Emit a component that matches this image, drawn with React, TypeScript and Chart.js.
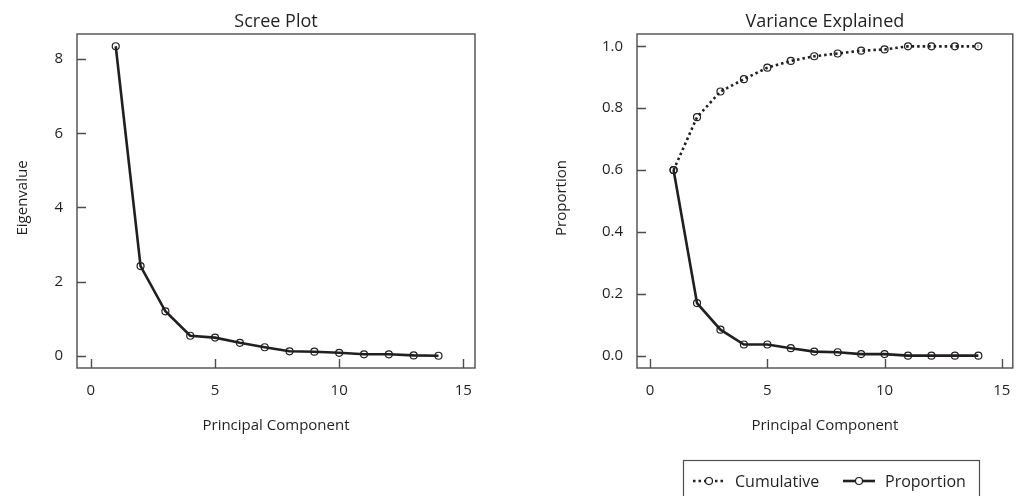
import React, { useEffect, useRef } from "react";
import { Chart, registerables } from "chart.js";

Chart.register(...registerables);

// ---------- data ----------
const components = [1, 2, 3, 4, 5, 6, 7, 8, 9, 10, 11, 12, 13, 14];
const eigenvalues = [8.35, 2.42, 1.2, 0.54, 0.49, 0.35, 0.23, 0.12, 0.11, 0.08, 0.04, 0.04, 0.01, 0.0];
const proportion = [0.6, 0.17, 0.084, 0.036, 0.036, 0.024, 0.013, 0.011, 0.005, 0.005, 0.0, 0.0, 0.0, 0.0];
const cumulative = [0.6, 0.771, 0.854, 0.894, 0.931, 0.953, 0.968, 0.977, 0.986, 0.99, 1.0, 1.0, 1.0, 1.0];
const xTickValues = [0, 5, 10, 15];
const eigenTickValues = [0, 2, 4, 6, 8];
const propTickValues = [0, 0.2, 0.4, 0.6, 0.8, 1.0];

const W = 1018;
const H = 496;
const INK = "#231f20";
const FRAME = "#4d4d4f";
const FONT = "'Open Sans', 'Noto Sans', sans-serif";

type Area = { left: number; top: number; right: number; bottom: number };

const framePlugin = {
  id: "frame",
  afterDraw(chart: any, _args: any, opts: any) {
    const { ctx, chartArea: a, scales } = chart;
    ctx.save();
    ctx.strokeStyle = FRAME;
    ctx.lineWidth = 1.4;
    ctx.strokeRect(a.left, a.top, a.right - a.left, a.bottom - a.top);
    const TL = 9;
    ctx.beginPath();
    scales.x.ticks.forEach((t: any) => {
      const px = Math.round(scales.x.getPixelForValue(t.value)) + 0.5;
      ctx.moveTo(px, a.bottom);
      ctx.lineTo(px, a.bottom - TL);
    });
    scales.y.ticks.forEach((t: any) => {
      const py = Math.round(scales.y.getPixelForValue(t.value)) + 0.5;
      ctx.moveTo(a.left, py);
      ctx.lineTo(a.left + TL, py);
    });
    ctx.stroke();

    ctx.fillStyle = INK;
    ctx.textAlign = "center";
    ctx.textBaseline = "alphabetic";
    const cx = (a.left + a.right) / 2;
    ctx.font = `18px ${FONT}`;
    ctx.fillText(opts.title, cx, 27);
    ctx.font = `15px ${FONT}`;
    ctx.fillText(opts.xTitle, cx, 430);
    ctx.save();
    ctx.translate(opts.yTitleX, 198);
    ctx.rotate(-Math.PI / 2);
    ctx.fillText(opts.yTitle, 0, 0);
    ctx.restore();

    if (opts.legend) {
      const lg = opts.legend;
      ctx.strokeStyle = FRAME;
      ctx.lineWidth = 1.2;
      ctx.strokeRect(lg.left + 0.5, lg.top + 0.5, lg.right - lg.left, lg.bottom - lg.top);
      ctx.font = `16px ${FONT}`;
      ctx.textAlign = "left";
      chart.data.datasets.forEach((ds: any, i: number) => {
        const x0 = lg.items[i];
        const y0 = lg.lineY;
        ctx.strokeStyle = ds.borderColor;
        ctx.lineWidth = ds.borderWidth;
        ctx.setLineDash(ds.borderDash || []);
        ctx.beginPath();
        ctx.moveTo(x0, y0);
        ctx.lineTo(x0 + 32, y0);
        ctx.stroke();
        ctx.setLineDash([]);
        ctx.lineWidth = ds.pointBorderWidth;
        ctx.beginPath();
        ctx.arc(x0 + 16, y0, ds.pointRadius, 0, Math.PI * 2);
        ctx.fillStyle = "#ffffff";
        ctx.fill();
        ctx.stroke();
        ctx.fillStyle = INK;
        ctx.fillText(ds.label, x0 + 42, lg.textY);
      });
    }
    ctx.restore();
  },
};

function series(label: string, values: number[], dashed: boolean) {
  return {
    label,
    data: components.map((c, i) => ({ x: c, y: values[i] })),
    borderColor: INK,
    borderWidth: 2.6,
    borderDash: dashed ? [2.5, 3] : [],
    pointRadius: 3.5,
    pointBorderWidth: 1.2,
    pointBorderColor: INK,
    pointBackgroundColor: "rgba(0,0,0,0)",
    tension: 0,
    fill: false,
  };
}

function buildConfig(p: {
  datasets: any[];
  area: Area;
  yMin: number;
  yMax: number;
  yTicks: number[];
  decimals: number;
  title: string;
  yTitle: string;
  yTitleX: number;
  legend?: any;
}) {
  const { area } = p;
  const tickFont = { family: FONT, size: 15 };
  return {
    type: "line",
    data: { datasets: p.datasets },
    options: {
      animation: false,
      responsive: false,
      devicePixelRatio: 1,
      layout: { padding: { left: 0, top: area.top, right: W - area.right, bottom: 0 } },
      plugins: {
        legend: { display: false },
        title: { display: false },
        tooltip: { enabled: false },
        frame: {
          title: p.title,
          xTitle: "Principal Component",
          yTitle: p.yTitle,
          yTitleX: p.yTitleX,
          legend: p.legend,
        },
      },
      scales: {
        x: {
          type: "linear",
          min: -0.56,
          max: 15.47,
          grid: { display: false, drawTicks: false },
          border: { display: false },
          ticks: { font: tickFont, color: INK, padding: 14, maxRotation: 0, callback: (v: number) => String(v) },
          afterBuildTicks: (s: any) => {
            s.ticks = xTickValues.map((v) => ({ value: v }));
          },
          afterFit: (s: any) => {
            s.height = H - area.bottom;
            s.paddingLeft = 0;
            s.paddingRight = 0;
          },
        },
        y: {
          type: "linear",
          min: p.yMin,
          max: p.yMax,
          grid: { display: false, drawTicks: false },
          border: { display: false },
          ticks: { font: tickFont, color: INK, padding: 14, callback: (v: number) => Number(v).toFixed(p.decimals) },
          afterBuildTicks: (s: any) => {
            s.ticks = p.yTicks.map((v) => ({ value: v }));
          },
          afterFit: (s: any) => {
            s.width = area.left;
            s.paddingTop = 0;
            s.paddingBottom = 0;
          },
        },
      },
    },
    plugins: [framePlugin],
  };
}

export default function App() {
  const leftRef = useRef<HTMLCanvasElement>(null);
  const rightRef = useRef<HTMLCanvasElement>(null);

  useEffect(() => {
    const left = new Chart(
      leftRef.current!,
      buildConfig({
        datasets: [series("Eigenvalue", eigenvalues, false)],
        area: { left: 77, top: 34, right: 475, bottom: 368 },
        yMin: -0.33,
        yMax: 8.68,
        yTicks: eigenTickValues,
        decimals: 0,
        title: "Scree Plot",
        yTitle: "Eigenvalue",
        yTitleX: 27,
      }) as any
    );
    const right = new Chart(
      rightRef.current!,
      buildConfig({
        datasets: [series("Cumulative", cumulative, true), series("Proportion", proportion, false)],
        area: { left: 637, top: 34, right: 1016, bottom: 368 },
        yMin: -0.04,
        yMax: 1.04,
        yTicks: propTickValues,
        decimals: 1,
        title: "Variance Explained",
        yTitle: "Proportion",
        yTitleX: 566,
        legend: { left: 683, top: 460, right: 979, bottom: 502, lineY: 481, textY: 487, items: [693, 843] },
      }) as any
    );
    return () => {
      left.destroy();
      right.destroy();
    };
  }, []);

  const style: React.CSSProperties = { position: "absolute", left: 0, top: 0, width: W, height: H };
  return (
    <div style={{ position: "fixed", left: 0, top: 0, width: W, height: H, background: "#fff" }}>
      <canvas ref={leftRef} width={W} height={H} style={style} />
      <canvas ref={rightRef} width={W} height={H} style={style} />
    </div>
  );
}
